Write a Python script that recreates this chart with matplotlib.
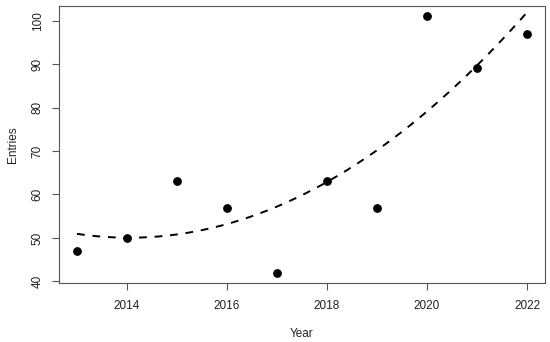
import numpy as np
import matplotlib
matplotlib.use("Agg")
import matplotlib.pyplot as plt

years = [2013, 2014, 2015, 2016, 2017, 2018, 2019, 2020, 2021, 2022]
entries = [47, 50, 63, 57, 42, 63, 57, 101, 89, 97]
xticks = [2014, 2016, 2018, 2020, 2022]
yticks = [40, 50, 60, 70, 80, 90, 100]

plt.rcParams['font.family'] = ['Liberation Sans', 'DejaVu Sans']

fig = plt.figure(figsize=(5.5, 3.42), dpi=100)
ax = fig.add_axes([59/550, 59/342, (545-59)/550, (283-6)/342])

x = np.array(years, dtype=float)
y = np.array(entries, dtype=float)
coef = np.polyfit(x - 2013, y, 2)
xs = np.linspace(x.min(), x.max(), 200)
ax.plot(xs, np.polyval(coef, xs - 2013), color='black', lw=1.4, linestyle=(0, (4, 4)))
ax.plot(x, y, 'o', color='black', markersize=5.3)

xr = x.max() - x.min()
yr = y.max() - y.min()
ax.set_xlim(x.min() - 0.04*xr, x.max() + 0.04*xr)
ax.set_ylim(y.min() - 0.04*yr, y.max() + 0.04*yr)

ax.set_xticks(xticks)
ax.set_yticks(yticks)
ax.set_xticklabels([str(v) for v in xticks], fontsize=8.5, color='#222222')
ax.set_yticklabels([str(v) for v in yticks], fontsize=8.5, color='#222222', rotation=90, va='center')
ax.tick_params(axis='x', length=5, width=0.8, color='#555555', pad=7)
ax.tick_params(axis='y', length=5, width=0.8, color='#555555', pad=6)
for s in ax.spines.values():
    s.set_color('#555555')
    s.set_linewidth(0.8)
ax.set_xlabel('Year', fontsize=8.5, color='#222222', labelpad=11.5)
ax.set_ylabel('Entries', fontsize=8.5, color='#222222', labelpad=9)

fig.savefig('out.png', dpi=100)
